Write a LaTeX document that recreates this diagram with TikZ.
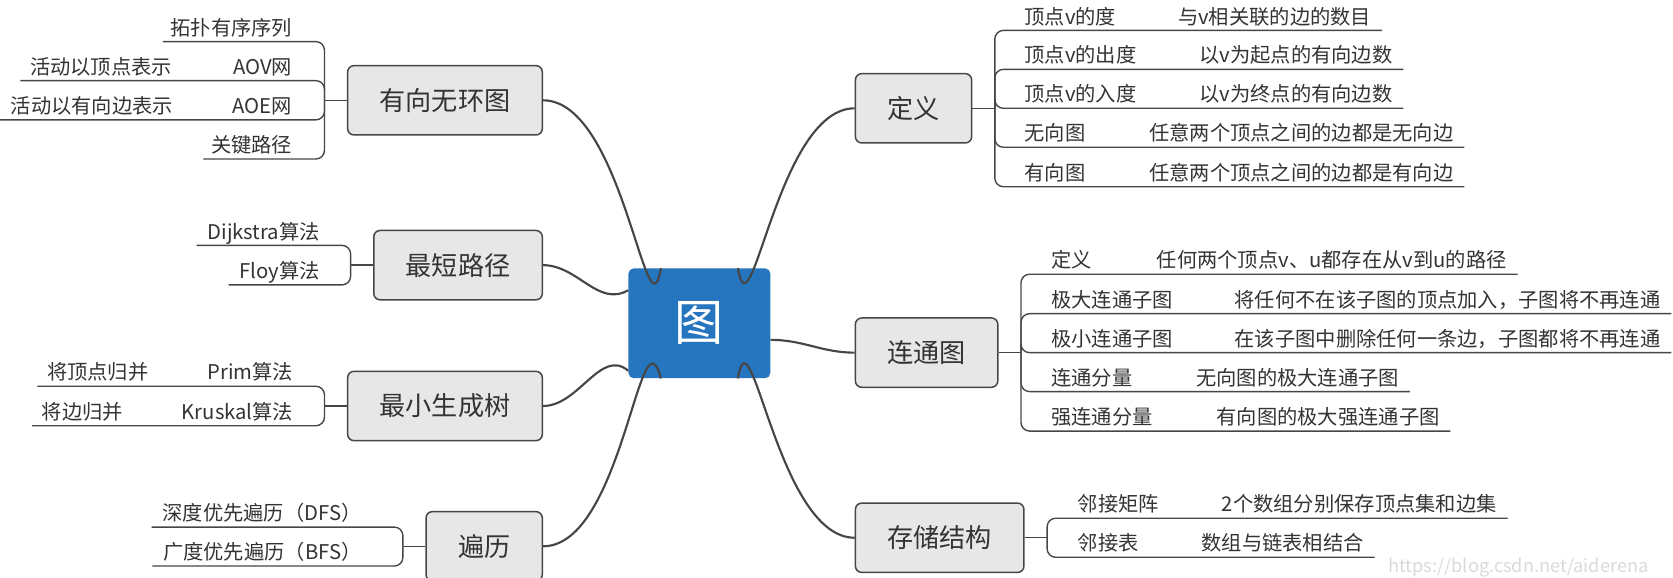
\documentclass[tikz,border=0pt]{standalone}
\usepackage{fontspec}
\newfontfamily\cjk{Noto Sans CJK SC}
\usetikzlibrary{positioning,calc}
\definecolor{rootblue}{RGB}{38,117,191}
\definecolor{boxgray}{RGB}{231,231,231}
\definecolor{linegray}{RGB}{70,70,70}
\definecolor{textgray}{RGB}{51,51,51}

\begin{document}
\begin{tikzpicture}[x=1pt,y=-1pt]
% Define styles for nodes and edges
\tikzstyle{graphroot} = [rectangle, rounded corners=5pt, fill=rootblue, text=white, minimum width=133pt, minimum height=103pt, font=\cjk\fontsize{46}{46}\selectfont]
\tikzstyle{maintopic} = [rectangle, rounded corners=6pt, draw=linegray, line width=1.4pt, fill=boxgray, text=textgray, inner xsep=30pt, minimum height=65pt, font=\cjk\fontsize{24.5}{24.5}\selectfont]
\tikzstyle{leaftext} = [inner sep=0pt, text=textgray, font=\cjk\fontsize{19}{19}\selectfont]
\tikzstyle{branchline} = [draw=linegray, line width=1.3pt, rounded corners=8pt]
\tikzstyle{trunkline} = [draw=linegray, line width=2pt]

\useasboundingbox (0,0) rectangle (1568,541);

% Nodes
\node[graphroot] (root) at (655.5,303) {图};
\node[maintopic, anchor=east] (dag) at (509,94) {有向无环图};
\node[maintopic, anchor=east] (sp) at (509,248.5) {最短路径};
\node[maintopic, anchor=east] (mst) at (509,380.5) {最小生成树};
\node[maintopic, anchor=east] (trav) at (509,512) {遍历};
\node[maintopic, anchor=west] (def) at (801,101.5) {定义};
\node[maintopic, anchor=west] (conn) at (801,330.5) {连通图};
\node[maintopic, anchor=west] (store) at (801,504) {存储结构};

\coordinate[left=21pt of dag] (dagHub);
\coordinate[left=21pt of sp] (spHub);
\coordinate[left=21pt of mst] (mstHub);
\coordinate[left=21pt of trav] (travHub);
\coordinate[right=21pt of def] (defHub);
\coordinate[right=21pt of conn] (connHub);
\coordinate[right=21pt of store] (storeHub);

% Edges from the centre
\draw[trunkline] ($(root.north west)!0.23!(root.north east)$) to[out=260,in=0] (dag.east);
\draw[trunkline] ($(root.north west)!0.2!(root.south west)$) to[out=210,in=0] (sp.east);
\draw[trunkline] ($(root.north west)!0.93!(root.south west)$) to[out=140,in=0] (mst.east);
\draw[trunkline] ($(root.south west)!0.23!(root.south east)$) to[out=105,in=0] (trav.east);
\draw[trunkline] ($(root.north west)!0.77!(root.north east)$) to[out=280,in=180] (def.west);
\draw[trunkline] ($(root.north east)!0.65!(root.south east)$) to[out=0,in=180] (conn.west);
\draw[trunkline] ($(root.south west)!0.77!(root.south east)$) to[out=80,in=180] (store.west);

\draw[branchline] (dag) -- (dagHub);
\draw[branchline] (sp) -- (spHub);
\draw[branchline] (mst) -- (mstHub);
\draw[branchline] (trav) -- (travHub);
\draw[branchline] (def) -- (defHub);
\draw[branchline] (conn) -- (connHub);
\draw[branchline] (store) -- (storeHub);

% Left leaves
\foreach \ly/\txt [count=\i] in {39/拓扑有序序列, 75.6/AOV网, 112.3/AOE网, 149/关键路径}
  \node[leaftext, anchor=base east] (dagLeaf\i) at (274,\ly-6) {\txt};
\node[leaftext, anchor=base west] (dagSub2) at (28,69.6) {活动以顶点表示};
\node[leaftext, anchor=base west] (dagSub3) at (10,106.3) {活动以有向边表示};
\draw[branchline] (dagHub) |- ($(dagLeaf1.base west)+(-7,6)$);
\draw[branchline] (dagHub) |- ($(dagSub2.base west)+(-9,6)$);
\draw[branchline] (dagHub) |- ($(dagSub3.base west)+(-10,6)$);
\draw[branchline] (dagHub) |- ($(dagLeaf4.base west)+(-7,6)$);

\foreach \ly/\txt [count=\i] in {230/Dijkstra算法, 267/Floy算法} {
  \node[leaftext, anchor=base east] (spLeaf\i) at (300,\ly-6) {\txt};
  \draw[branchline] (spHub) |- ($(spLeaf\i.base west)+(-10,6)$);
}

\foreach \ly/\txt/\sub/\sx [count=\i] in {362/Prim算法/将顶点归并/44, 399/Kruskal算法/将边归并/39} {
  \node[leaftext, anchor=base east] (mstLeaf\i) at (275,\ly-6) {\txt};
  \node[leaftext, anchor=base west] (mstSub\i) at (\sx,\ly-6) {\sub};
  \draw[branchline] (mstHub) |- ($(mstSub\i.base west)+(-9,6)$);
}

\foreach \ly/\txt [count=\i] in {494/深度优先遍历（DFS）, 530.5/广度优先遍历（BFS）} {
  \node[leaftext, anchor=base east] (travLeaf\i) at (339,\ly-6) {\txt};
  \draw[branchline] (travHub) |- ($(travLeaf\i.base west)+(-10,6)$);
}

% Right leaves
\foreach \ly/\lab/\val/\vx [count=\i] in {28.5/顶点v的度/与v相关联的边的数目/1104, 65/顶点v的出度/以v为起点的有向边数/1124, 101.5/顶点v的入度/以v为终点的有向边数/1124, 138/无向图/任意两个顶点之间的边都是无向边/1077, 175/有向图/任意两个顶点之间的边都是有向边/1077} {
  \node[leaftext, anchor=base west] (defKey\i) at (960,\ly-6) {\lab};
  \node[leaftext, anchor=base west] (defVal\i) at (\vx,\ly-6) {\val};
  \draw[branchline] (defHub) |- ($(defVal\i.base east)+(10,6)$);
}

\foreach \ly/\lab/\val/\vx [count=\i] in {257/定义/任何两个顶点v、u都存在从v到u的路径/1084, 294/极大连通子图/将任何不在该子图的顶点加入，子图将不再连通/1157, 330.5/极小连通子图/在该子图中删除任何一条边，子图都将不再连通/1157, 367/连通分量/无向图的极大连通子图/1121, 404/强连通分量/有向图的极大强连通子图/1140} {
  \node[leaftext, anchor=base west] (connKey\i) at (985,\ly-6) {\lab};
  \node[leaftext, anchor=base west] (connVal\i) at (\vx,\ly-6) {\val};
  \draw[branchline] (connHub) |- ($(connVal\i.base east)+(10,6)$);
}

\foreach \ly/\lab/\val/\vx [count=\i] in {485.7/邻接矩阵/2个数组分别保存顶点集和边集/1145, 522.3/邻接表/数组与链表相结合/1126} {
  \node[leaftext, anchor=base west] (storeKey\i) at (1010,\ly-6) {\lab};
  \node[leaftext, anchor=base west] (storeVal\i) at (\vx,\ly-6) {\val};
  \draw[branchline] (storeHub) |- ($(storeVal\i.base east)+(10,6)$);
}

\node[anchor=base west, inner sep=0pt, text=gray!30, font=\cjk\fontsize{17}{17}\selectfont] (mark) at (1301,537) {https://blog.csdn.net/aiderena};
\end{tikzpicture}
\end{document}
